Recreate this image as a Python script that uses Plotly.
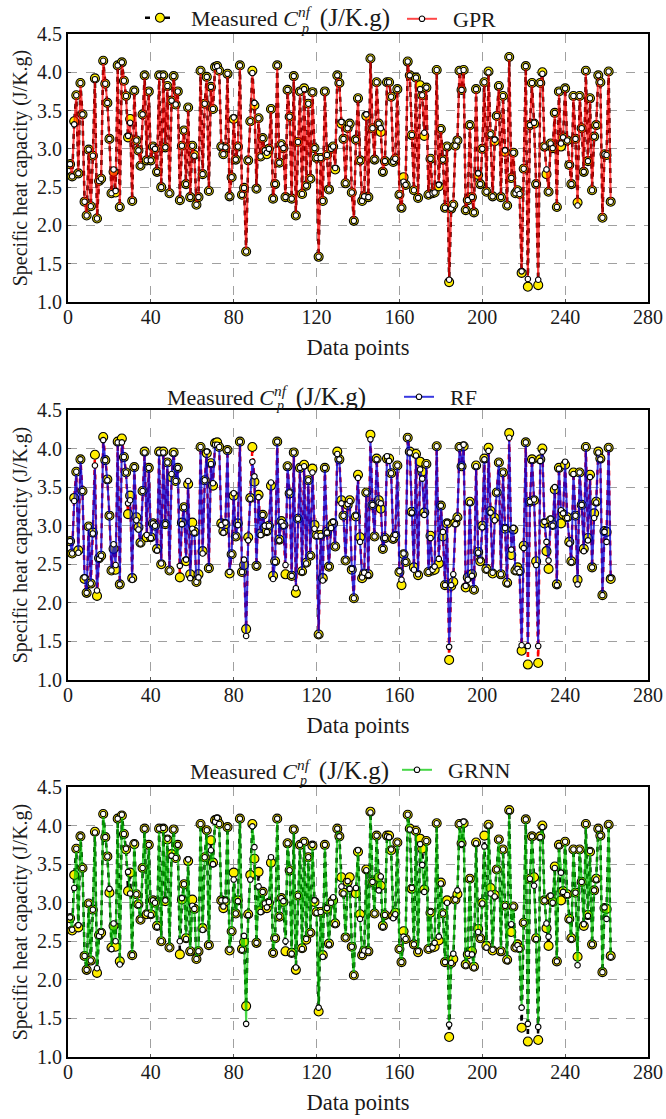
import plotly.graph_objects as go

measured = [
2.80,2.64,3.36,3.70,2.68,3.86,3.45,2.31,2.13,2.99,
2.25,2.91,3.92,2.09,2.58,2.61,4.15,3.85,3.60,3.13,
2.42,2.70,2.43,4.09,2.24,4.13,3.89,3.69,3.15,3.39,
2.32,3.76,3.11,2.98,2.78,3.45,3.96,2.85,3.75,2.85,
3.03,3.00,2.70,3.96,2.50,3.96,3.02,3.82,2.42,3.63,
3.95,3.58,3.75,2.33,3.04,3.24,2.54,3.54,2.37,3.04,
2.92,2.27,2.37,4.02,2.67,3.59,3.94,2.45,3.81,3.52,
4.07,4.08,4.02,3.03,2.93,3.02,3.98,2.38,2.63,3.39,
2.86,3.03,4.09,2.40,2.49,1.66,2.85,3.36,4.02,3.57,
2.48,3.40,2.90,3.14,2.98,2.93,3.00,3.52,2.35,2.54,
4.09,2.82,3.06,3.01,2.37,3.77,3.42,2.35,3.95,2.13,
3.09,3.75,2.41,3.79,2.52,3.59,2.61,3.74,3.01,2.88,
1.59,2.88,2.32,3.75,2.92,2.47,3.00,3.03,2.73,3.96,
3.86,3.33,3.13,2.55,3.27,3.33,2.43,2.06,3.12,3.66,
2.85,2.32,2.38,3.43,2.37,4.18,3.27,2.86,3.87,3.33,
3.22,2.70,2.84,3.87,3.87,3.68,2.83,2.87,3.78,2.40,
2.23,2.63,2.53,4.14,3.96,3.18,2.46,3.93,2.36,3.83,
3.70,3.17,3.80,2.40,2.87,2.42,2.43,4.03,2.51,3.26,
2.86,2.23,3.03,1.26,2.22,2.27,3.04,3.11,4.02,3.77,
4.03,2.20,2.33,3.31,2.37,2.17,3.78,2.66,2.54,3.00,
3.87,2.44,4.01,3.19,2.38,3.10,3.43,3.82,2.37,3.69,
2.96,2.26,4.20,2.62,2.95,2.42,2.46,2.41,1.38,2.74,
4.08,1.20,3.31,3.86,3.33,2.54,1.22,3.86,4.00,3.03,
2.67,2.44,3.07,3.01,3.47,2.24,3.75,3.03,3.15,3.79,
3.11,2.79,2.54,3.69,3.13,2.30,3.69,3.27,2.70,4.02,
2.84,3.66,2.46,3.16,3.31,3.96,3.87,2.10,2.93,2.92,4.01,2.31]

gpr = [
2.80,2.64,3.32,3.70,2.68,3.86,3.45,2.31,2.13,2.99,
2.25,2.91,3.91,2.09,2.58,2.61,4.15,3.85,3.60,3.13,
2.42,2.73,2.45,4.09,2.24,4.13,3.89,3.69,3.17,3.34,
2.32,3.76,3.11,2.98,2.78,3.45,3.96,2.85,3.75,2.85,
3.03,3.00,2.70,3.96,2.50,3.96,3.02,3.82,2.42,3.63,
3.95,3.58,3.75,2.33,3.04,3.24,2.54,3.54,2.37,3.04,
2.91,2.27,2.37,4.02,2.67,3.59,3.94,2.45,3.81,3.52,
4.07,4.08,4.02,3.03,2.93,3.02,3.98,2.38,2.63,3.41,
2.86,3.03,4.09,2.40,2.49,1.66,2.85,3.36,3.99,3.60,
2.48,3.40,2.90,3.14,2.98,2.95,3.00,3.52,2.35,2.54,
4.09,2.82,3.06,3.01,2.37,3.77,3.42,2.35,3.95,2.13,
3.09,3.75,2.41,3.78,2.52,3.59,2.61,3.74,3.01,2.88,
1.59,2.88,2.32,3.75,2.92,2.47,3.00,3.03,2.75,3.96,
3.86,3.35,3.13,2.55,3.27,3.33,2.43,2.06,3.12,3.66,
2.85,2.32,2.38,3.45,2.37,4.18,3.27,2.86,3.87,3.33,
3.27,2.70,2.84,3.87,3.87,3.68,2.83,2.87,3.78,2.40,
2.23,2.57,2.53,4.14,3.96,3.18,2.46,3.93,2.36,3.78,
3.70,3.21,3.80,2.40,2.87,2.42,2.43,4.03,2.53,3.26,
2.86,2.23,3.03,1.29,2.22,2.27,3.04,3.11,4.02,3.77,
4.03,2.20,2.33,3.31,2.37,2.17,3.78,2.68,2.54,3.00,
3.87,2.44,4.00,3.19,2.38,3.12,3.43,3.82,2.37,3.69,
2.98,2.26,4.20,2.62,2.95,2.42,2.46,2.41,1.40,2.74,
4.08,1.30,3.31,3.86,3.34,2.54,1.29,3.86,3.98,3.03,
2.73,2.44,3.07,3.01,3.47,2.24,3.75,3.07,3.15,3.79,
3.11,2.79,2.54,3.69,3.13,2.26,3.69,3.27,2.70,4.02,
2.84,3.66,2.46,3.16,3.31,3.96,3.87,2.10,2.93,2.92,4.01,2.31]

rf = [
2.80,2.64,3.32,3.70,2.65,3.86,3.45,2.33,2.13,2.99,
2.25,2.90,3.78,2.16,2.57,2.61,4.11,3.85,3.59,3.13,
2.42,2.76,2.49,4.08,2.24,4.08,3.89,3.69,3.29,3.33,
2.30,3.76,3.07,2.95,2.77,3.45,3.95,2.88,3.75,2.84,
3.03,3.00,2.68,3.95,2.51,3.95,3.02,3.82,2.42,3.67,
3.94,3.58,3.75,2.48,3.02,3.24,2.56,3.58,2.32,2.96,
2.91,2.27,2.33,4.02,2.64,3.59,3.96,2.45,3.80,3.55,
4.05,4.05,4.02,3.01,2.91,3.04,3.98,2.40,2.63,3.42,
2.86,3.01,4.09,2.40,2.56,1.57,2.81,3.35,3.83,3.64,
2.48,3.37,2.88,3.14,3.00,2.92,3.00,3.56,2.31,2.53,
4.09,2.81,3.05,3.00,2.49,3.77,3.43,2.35,3.95,2.19,
3.09,3.75,2.40,3.77,2.51,3.59,2.61,3.69,2.96,2.87,
1.58,2.87,2.29,3.75,2.91,2.47,2.97,3.05,2.73,3.93,
3.86,3.29,3.13,2.55,3.28,3.32,2.44,2.06,3.13,3.62,
2.79,2.33,2.39,3.43,2.36,4.12,3.27,2.86,3.86,3.30,
3.29,2.70,2.84,3.90,3.84,3.68,2.83,2.88,3.78,2.41,
2.30,2.64,2.53,4.14,3.95,3.17,2.43,3.91,2.37,3.73,
3.61,3.14,3.80,2.40,2.84,2.43,2.47,4.03,2.57,3.26,
2.92,2.23,3.04,1.43,2.23,2.37,3.02,3.10,4.02,3.77,
4.05,2.22,2.30,3.30,2.35,2.17,3.77,2.65,2.55,2.98,
3.86,2.43,3.97,3.17,2.39,3.07,3.43,3.82,2.37,3.69,
2.97,2.25,4.14,2.69,2.97,2.41,2.44,2.40,1.45,2.71,
4.08,1.44,3.31,3.85,3.34,2.49,1.44,3.84,3.96,3.05,
2.79,2.55,3.09,3.00,3.50,2.23,3.74,3.20,3.16,3.83,
3.10,2.77,2.53,3.67,3.13,2.24,3.69,3.27,2.67,4.02,
2.81,3.63,2.46,3.10,3.30,3.95,3.86,2.10,2.92,2.79,4.01,2.32]

grnn = [
2.81,2.65,3.19,3.70,2.71,3.86,3.45,2.31,2.13,2.99,
2.25,2.91,3.91,2.15,2.57,2.62,4.15,3.85,3.60,3.18,
2.40,2.73,2.50,4.09,2.20,4.14,3.89,3.70,3.40,3.12,
2.32,3.77,3.11,2.97,2.78,3.45,3.96,2.86,3.75,2.84,
3.03,3.00,2.69,3.96,2.50,3.97,3.03,3.83,2.42,3.61,
3.95,3.58,3.75,2.50,3.06,3.24,2.53,3.56,2.37,2.96,
2.92,2.27,2.37,4.02,2.65,3.59,3.94,2.45,3.68,3.50,
4.05,4.10,4.02,3.03,2.95,3.03,3.98,2.39,2.63,3.30,
2.86,3.02,4.09,2.39,2.57,1.43,2.84,3.30,3.99,3.72,
2.48,3.21,2.88,3.14,2.99,2.94,3.01,3.59,2.35,2.54,
4.09,2.82,3.06,3.02,2.50,3.77,3.42,2.34,3.95,2.16,
3.09,3.75,2.40,3.79,2.53,3.59,2.61,3.75,3.03,2.87,
1.64,2.88,2.30,3.75,2.93,2.46,3.00,3.07,2.72,3.96,
3.86,3.21,3.12,2.55,3.28,3.18,2.43,2.06,3.19,3.68,
2.79,2.32,2.38,3.42,2.37,4.17,3.27,2.86,3.87,3.16,
3.34,2.69,2.84,3.86,3.85,3.69,2.80,2.85,3.78,2.40,
2.23,2.56,2.53,4.14,3.95,3.19,2.46,3.93,2.37,3.76,
3.49,3.14,3.80,2.40,2.88,2.42,2.48,4.03,2.56,3.25,
2.86,2.23,3.00,1.42,2.22,2.34,3.04,3.16,4.02,3.76,
4.05,2.19,2.34,3.31,2.33,2.16,3.77,2.62,2.54,2.99,
3.73,2.42,4.00,3.12,2.39,3.08,3.43,3.82,2.37,3.69,
2.96,2.25,4.19,2.72,2.95,2.42,2.45,2.40,1.64,2.74,
4.08,1.43,3.31,3.86,3.22,2.53,1.39,3.85,3.98,3.03,
2.73,2.56,3.09,3.00,3.45,2.24,3.74,3.39,3.14,3.79,
3.10,2.78,2.53,3.69,3.13,2.19,3.69,3.27,2.72,4.02,
2.83,3.67,2.46,3.16,3.30,3.96,3.87,2.10,2.94,2.79,4.01,2.30]

assert len(measured) == len(gpr) == len(rf) == len(grnn) == 262
points = list(range(1, 263))
x_ticks = [0, 40, 80, 120, 160, 200, 240, 280]
y_ticks = [1.0, 1.5, 2.0, 2.5, 3.0, 3.5, 4.0, 4.5]

W, H = 666, 1119
def fx(px): return px / W
def fy(py): return 1 - py / H

FONT = "Liberation Serif"
INK = "#1a1a1a"
NB = "\u00a0"
models = [("GPR", gpr, "rgba(255,0,0,0.72)", "#000000", "legend2"),
          ("RF", rf, "rgba(0,0,215,0.78)", "#ff0000", "legend3"),
          ("GRNN", grnn, "rgba(0,200,0,0.72)", "#000000", "legend4")]
plot_boxes = [(34, 302), (410, 680), (787, 1057)]
x_left, x_right = 68, 648
title = ("Measured <i>C</i><sup><i>nf</i></sup>" + NB + "\u2009"
         + "<span style='font-size:25px'>(J/K.g)</span>")

fig = go.Figure()
layout = dict(width=W, height=H, autosize=False, margin=dict(l=0, r=0, t=0, b=0, autoexpand=False),
              paper_bgcolor="white", plot_bgcolor="white",
              font=dict(family=FONT, size=20, color=INK))

for k, (name, pred, col, mcol, leg) in enumerate(models):
    idx = "" if k == 0 else str(k + 1)
    top, bot = plot_boxes[k]
    fig.add_trace(go.Scatter(
        x=points, y=measured, name=NB + NB + title,
        mode="lines+markers", xaxis="x" + idx, yaxis="y" + idx,
        line=dict(color=mcol, width=2.5, dash="5px,5px"),
        marker=dict(size=9, color="#ffee00", line=dict(color="black", width=1.1)),
        showlegend=(k == 0), legend="legend"))
    fig.add_trace(go.Scatter(
        x=points, y=pred, name=NB + NB + name, mode="lines+markers",
        xaxis="x" + idx, yaxis="y" + idx,
        line=dict(color=col, width=2),
        marker=dict(size=5.5, color="white", line=dict(color="black", width=1.1)),
        legend=leg))
    common = dict(showline=True, linecolor="black", linewidth=2, mirror=True,
                  showgrid=True, gridcolor="#a0a0a0", griddash="dash", gridwidth=1,
                  ticks="inside", ticklen=3, tickwidth=1, tickcolor="#555555", automargin=False,
                  zeroline=False, tickfont=dict(family=FONT, size=20, color=INK))
    layout["xaxis" + idx] = dict(
        common, domain=[fx(x_left), fx(x_right)], range=[0, 280],
        tickmode="array", tickvals=x_ticks, anchor="y" + idx, ticklabelstandoff=-4,
        title=dict(text="Data points", font=dict(family=FONT, size=22.5), standoff=12))
    layout["yaxis" + idx] = dict(
        common, domain=[fy(bot), fy(top)], range=[1, 4.5],
        tickmode="array", tickvals=y_ticks, tickformat=".1f", anchor="x" + idx,
        title=dict(text="Specific heat capacity (J/K.g)",
                   font=dict(family=FONT, size=20), standoff=4))

legend_style = dict(orientation="h", xanchor="left", yanchor="middle",
                    bgcolor="rgba(0,0,0,0)", itemwidth=30,
                    font=dict(family=FONT, size=22, color=INK))
layout["legend"] = dict(legend_style, x=fx(140), y=fy(18))
layout["legend2"] = dict(legend_style, x=fx(402), y=fy(19))
layout["legend3"] = dict(legend_style, x=fx(399), y=fy(397))
layout["legend4"] = dict(legend_style, x=fx(397), y=fy(770))

annotations = []
for px, py in [(165, 397), (188, 770)]:
    annotations.append(dict(text=title, x=fx(px), y=fy(py), xref="paper", yref="paper",
                            xanchor="left", yanchor="middle", showarrow=False,
                            font=dict(family=FONT, size=22, color=INK)))
for px, py in [(299, 28), (274, 405), (297, 780)]:
    annotations.append(dict(text="<i>p</i>", x=fx(px), y=fy(py), xref="paper", yref="paper",
                            xanchor="left", yanchor="middle", showarrow=False,
                            font=dict(family=FONT, size=14, color=INK)))
layout["annotations"] = annotations
fig.update_layout(**layout)
fig.write_html("out.html", config={"displayModeBar": False},
               post_script="document.body.style.margin='0';")
